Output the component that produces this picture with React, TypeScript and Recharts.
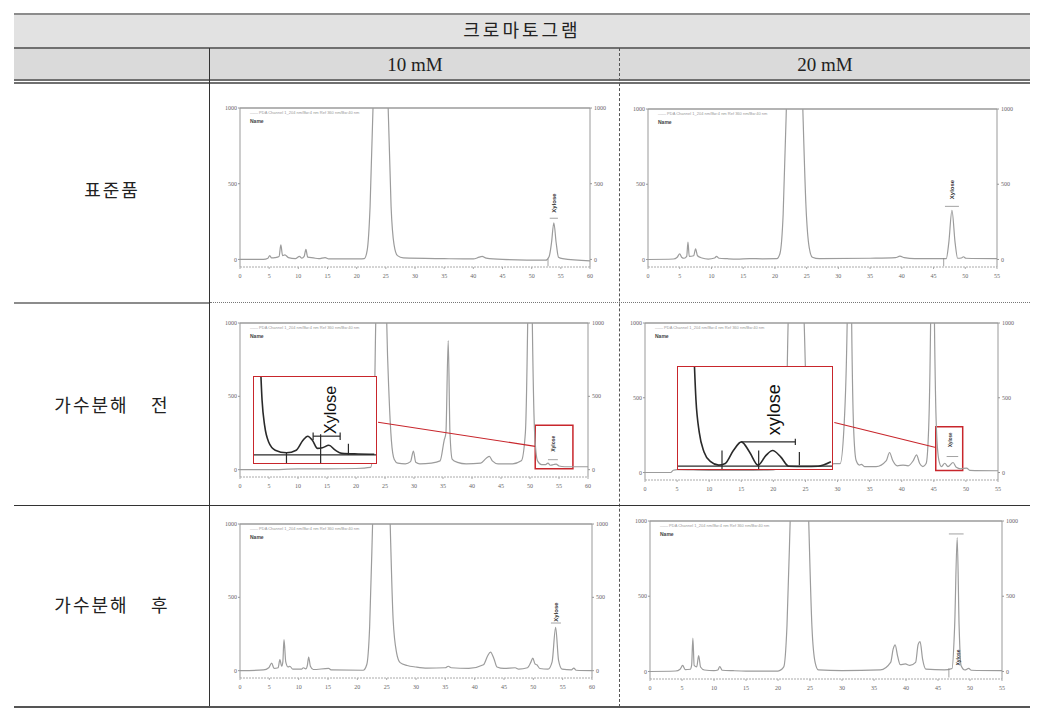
import { LineChart, Line, XAxis, YAxis, ReferenceLine, ReferenceArea, ReferenceDot } from 'recharts'

type Pt = [number, number]

// retention time (min), signal (mAU)
const std10: Pt[] = [
  [0, 0], [4, 0], [4.8, 8], [5.1, 26], [5.4, 10], [6.0, 12], [6.7, 20], [7.0, 97], [7.3, 25], [7.7, 30],
  [8.3, 12], [9.5, 5], [10.2, 20], [10.6, 8], [11.0, 20], [11.3, 66], [11.6, 15], [12.6, 10], [13.5, 5],
  [14.6, 12], [15.2, 3], [20.5, 3], [21.3, 5], [21.8, 60], [22.3, 350], [22.8, 1000], [23.5, 2200],
  [24.2, 2500], [24.9, 2000], [25.4, 1000], [25.9, 350], [26.4, 100], [27, 25], [28, 10], [35, 5], [40, 3],
  [41, 15], [41.5, 20], [42.2, 8], [45, 0], [52.4, -5], [53.0, 20], [53.4, 110], [53.8, 242], [54.2, 110],
  [54.6, 15], [55.3, 5], [60, -10],
]
const std20: Pt[] = [
  [0, 0], [4, 3], [4.6, 15], [5.0, 38], [5.3, 15], [5.7, 8], [6.1, 20], [6.3, 115], [6.5, 20], [7.2, 25],
  [7.5, 71], [7.8, 25], [8.5, 10], [9.5, 3], [10.5, 10], [10.8, 20], [11.2, 8], [12.5, 5], [14, 3], [16, 6],
  [18, 4], [20.3, 5], [20.8, 40], [21.3, 300], [21.8, 1000], [22.5, 2300], [23.2, 2500], [23.9, 1800],
  [24.4, 1000], [24.9, 350], [25.4, 80], [25.9, 15], [27, 5], [35, 8], [39, 12], [39.7, 22], [40.4, 12],
  [42, 5], [47, 5], [47.4, 110], [47.9, 327], [48.4, 110], [48.8, 8], [49.4, 10], [49.7, 18], [50.1, 8], [55, 5],
]
const pre10: Pt[] = [
  [0, 0], [5, 0], [10, 5], [15, 5], [20, 8], [22.5, 15], [23.0, 150], [23.4, 1000], [24, 2500], [24.8, 2500],
  [25.3, 1000], [25.7, 500], [26.1, 200], [26.6, 70], [27.2, 45], [28.5, 40], [29.4, 55], [29.9, 127],
  [30.3, 50], [31, 40], [33, 45], [34.5, 60], [35.2, 200], [35.5, 250], [35.9, 880], [36.2, 250], [36.6, 70],
  [37.5, 50], [39, 40], [41.5, 45], [42.5, 80], [43, 90], [43.5, 60], [44.5, 40], [47, 40], [48.5, 60],
  [49.2, 250], [49.6, 1000], [50.0, 2500], [50.4, 1000], [50.8, 250], [51.3, 60], [52, 35], [52.7, 35],
  [53.1, 45], [53.5, 30], [54.1, 35], [54.5, 38], [55, 25], [56, 20], [60, 20],
]
const pre20: Pt[] = [
  [0, 0], [4, 0], [4.4, 15], [5, 20], [10, 15], [15, 15], [20, 18], [21.8, 40], [22.3, 1000], [23.5, 2500],
  [24.8, 1000], [25.3, 300], [26, 120], [27, 60], [28.5, 50], [29.5, 60], [30.4, 60], [31.0, 300],
  [31.5, 1000], [31.9, 2500], [32.2, 1000], [32.5, 300], [32.9, 80], [33.4, 50], [33.7, 55], [34.2, 40],
  [36, 40], [37.6, 80], [38.1, 134], [38.6, 80], [39.3, 45], [40.2, 50], [41, 45], [41.8, 80], [42.3, 118],
  [42.8, 60], [43.3, 40], [43.8, 60], [44.2, 300], [44.5, 1000], [44.8, 2500], [45.1, 1000], [45.4, 300],
  [45.8, 80], [46.2, 40], [46.7, 62], [47.2, 40], [48, 67], [48.5, 35], [49.2, 25], [50.1, 30], [50.6, 15], [55, 12],
]
const post10: Pt[] = [
  [0, 0], [4, 5], [4.9, 20], [5.4, 52], [5.8, 15], [6.5, 20], [6.8, 75], [7.1, 30], [7.3, 60], [7.5, 211],
  [7.8, 60], [8.2, 25], [8.5, 30], [9, 10], [10.5, 10], [10.8, 20], [11.2, 12], [11.5, 40], [11.7, 93],
  [12, 30], [12.5, 8], [15.1, 15], [15.6, 5], [21, 3], [21.6, 40], [22.1, 300], [22.6, 1000], [23.5, 2500],
  [24.8, 2400], [25.6, 1000], [26.1, 350], [26.7, 120], [27.3, 55], [28.5, 35], [30, 25], [31.9, 18],
  [35, 20], [35.5, 30], [36, 20], [39, 15], [41.5, 40], [42.2, 100], [42.7, 127], [43.3, 80], [43.8, 25],
  [45, 15], [46.9, 20], [47.5, 10], [49, 20], [49.6, 60], [49.9, 86], [50.3, 45], [50.6, 40], [51.1, 15],
  [52.5, 10], [53.2, 60], [53.8, 295], [54.3, 70], [54.9, 10], [56.5, 5], [56.9, 18], [57.3, 3], [60, 0],
]
const post20: Pt[] = [
  [0, 0], [4, 3], [4.7, 15], [5.1, 40], [5.5, 12], [6.3, 15], [6.5, 40], [6.7, 221], [6.9, 40], [7.3, 30],
  [7.6, 106], [7.9, 30], [8.5, 10], [10, 5], [10.6, 10], [10.9, 33], [11.3, 8], [13, 5], [15, 3], [20, 3],
  [20.9, 30], [21.4, 300], [21.9, 1000], [22.8, 2500], [24.0, 2400], [24.8, 1000], [25.3, 300], [25.8, 60],
  [26.3, 10], [30, 5], [36, 10], [37.6, 60], [38.0, 150], [38.3, 177], [38.7, 100], [39.1, 45], [39.9, 50],
  [40.6, 40], [41.5, 60], [41.9, 180], [42.2, 199], [42.6, 80], [43.1, 15], [46, 10], [47.2, 20],
  [47.6, 300], [48.0, 889], [48.3, 300], [48.6, 40], [49.2, 10], [49.8, 20], [50.2, 8], [55, 5],
]
// enlarged xylose windows
const zoom10: Pt[] = [
  [51.2, 420], [51.33, 222], [51.47, 134], [51.68, 79], [52.03, 51], [52.63, 42], [53.15, 51], [53.5, 84],
  [53.76, 99], [54.02, 84], [54.28, 57], [54.54, 59], [54.89, 68], [55.23, 51], [55.58, 40], [56.45, 38], [57.31, 37],
]
const zoom20: Pt[] = [
  [45.71, 420], [45.79, 211], [45.88, 118], [46.01, 62], [46.19, 34], [46.41, 24], [46.59, 29], [46.81, 66],
  [47.03, 91], [47.25, 62], [47.48, 24], [47.7, 52], [47.88, 66], [48.1, 48], [48.32, 21], [48.76, 20],
  [49.12, 21], [49.47, 34],
]

const ticks60 = [0, 5, 10, 15, 20, 25, 30, 35, 40, 45, 50, 55, 60]
const ticks55 = [0, 5, 10, 15, 20, 25, 30, 35, 40, 45, 50, 55]
const yTicks = [0, 500, 1000]

const RED = '#c8262c'
const TRACE = '#9c9c9c'
const YW = 22
const XH = 16
const M = 3
const KO = "'Liberation Serif', 'Noto Sans CJK KR', serif"

interface Box { left: number; top: number; width: number; height: number }
type Seg = [Pt, Pt]

const rows = (pts: Pt[]) => pts.map(([t, v]) => ({ t, v }))

function vText(text: string, size: number, color: string, weight = 400) {
  // eslint-disable-next-line @typescript-eslint/no-explicit-any
  return (p: any) => {
    const { x, y } = p.viewBox
    return (
      <text x={x} y={y} transform={`rotate(-90, ${x}, ${y})`} textAnchor="middle" dominantBaseline="central"
        fontSize={size} fontWeight={weight} fill={color} fontFamily="Arial, 'Liberation Sans', sans-serif">
        {text}
      </text>
    )
  }
}

interface ChromProps {
  pts: Pt[]
  xMax: number
  box: Box
  tag: { t: number; v: number; size: number }
  bars: Seg[]
  redBox?: { x1: number; x2: number; y1: number; y2: number }
  link?: Seg
}

function Chromatogram({ pts, xMax, box, tag, bars, redBox, link }: ChromProps) {
  const w = box.width + 2 * YW + 2 * M
  const h = box.height + XH + 2 * M
  const tick = { fontSize: 6, fill: '#666' }
  return (
    <>
      <div style={{ position: 'absolute', left: box.left - YW - M, top: box.top - M }}>
        <LineChart width={w} height={h} data={rows(pts)} margin={{ top: M, right: M, bottom: M, left: M }}>
          <XAxis dataKey="t" type="number" domain={[0, xMax]} ticks={xMax === 60 ? ticks60 : ticks55}
            height={XH} tick={tick} tickSize={2} tickMargin={5} stroke="#aaa" strokeDasharray="2 1" />
          <YAxis yAxisId="l" domain={[-50, 1000]} ticks={yTicks} allowDataOverflow width={YW}
            tick={tick} tickSize={2} tickMargin={1} stroke="#999" />
          <YAxis yAxisId="r" orientation="right" domain={[-50, 1000]} ticks={yTicks} allowDataOverflow width={YW}
            tick={tick} tickSize={2} tickMargin={2} stroke="#999" />
          <ReferenceLine yAxisId="l" y={1000} stroke="#6b6b6b" strokeWidth={1.2} />
          <Line yAxisId="l" dataKey="v" type="monotone" stroke={TRACE} strokeWidth={1.2} dot={false}
            isAnimationActive={false} />
          {bars.map((s, i) => (
            <ReferenceLine key={i} yAxisId="l" segment={[{ x: s[0][0], y: s[0][1] }, { x: s[1][0], y: s[1][1] }]}
              stroke="#8a8a8a" strokeWidth={0.8} ifOverflow="visible" />
          ))}
          <ReferenceDot yAxisId="l" x={tag.t} y={tag.v} r={0} stroke="none" ifOverflow="visible"
            label={vText('Xylose', tag.size, '#333', 700)} />
          {redBox && (
            <ReferenceArea yAxisId="l" x1={redBox.x1} x2={redBox.x2} y1={redBox.y1} y2={redBox.y2}
              stroke={RED} strokeWidth={1.5} fill="none" fillOpacity={0} ifOverflow="visible" />
          )}
          {link && (
            <ReferenceLine yAxisId="l" segment={[{ x: link[0][0], y: link[0][1] }, { x: link[1][0], y: link[1][1] }]}
              stroke={RED} strokeWidth={1.1} ifOverflow="visible" />
          )}
        </LineChart>
      </div>
      <div style={{ position: 'absolute', left: box.left + 10, top: box.top + 2, fontSize: 4, color: '#999',
        fontFamily: 'Arial, sans-serif', whiteSpace: 'nowrap' }}>
        —— PDA Channel 1_204 nm/Bw:4 nm Ref 360 nm/Bw:40 nm
      </div>
      <div style={{ position: 'absolute', left: box.left + 10, top: box.top + 10, fontSize: 5, color: '#444',
        fontWeight: 700, fontFamily: 'Arial, sans-serif' }}>
        Name
      </div>
    </>
  )
}

interface InsetProps {
  pts: Pt[]
  box: Box
  xDom: [number, number]
  yDom: [number, number]
  base: number
  bars: Seg[]
  text: { t: number; v: number; size: number; value: string }
}

function Inset({ pts, box, xDom, yDom, base, bars, text }: InsetProps) {
  const b = 1.5
  return (
    <div style={{ position: 'absolute', left: box.left, top: box.top, width: box.width - 2 * b,
      height: box.height - 2 * b, border: `${b}px solid ${RED}`, background: '#fff' }}>
      <LineChart width={box.width - 2 * b} height={box.height - 2 * b} data={rows(pts)}
        margin={{ top: 0, right: 0, bottom: 0, left: 0 }}>
        <XAxis dataKey="t" type="number" domain={xDom} hide allowDataOverflow />
        <YAxis domain={yDom} hide allowDataOverflow />
        <ReferenceLine y={base} stroke="#2a2a2a" strokeWidth={1.2} />
        <Line dataKey="v" type="monotone" stroke="#2a2a2a" strokeWidth={1.6} dot={false} isAnimationActive={false} />
        {bars.map((s, i) => (
          <ReferenceLine key={i} segment={[{ x: s[0][0], y: s[0][1] }, { x: s[1][0], y: s[1][1] }]}
            stroke="#2a2a2a" strokeWidth={1.2} ifOverflow="visible" />
        ))}
        <ReferenceDot x={text.t} y={text.v} r={0} stroke="none" ifOverflow="visible"
          label={vText(text.value, text.size, '#111')} />
      </LineChart>
    </div>
  )
}

function Rule({ left, top, width, height, style }: { left: number; top: number; width: number; height: number; style: React.CSSProperties }) {
  return <div style={{ position: 'absolute', left, top, width, height, ...style }} />
}

export default function App() {
  const label = (text: string, top: number) => (
    <div style={{ position: 'absolute', left: 14, width: 196, top: top - 12, height: 24, lineHeight: '24px',
      textAlign: 'center', fontSize: 18, letterSpacing: 2, wordSpacing: 16, color: '#222', fontFamily: KO,
      whiteSpace: 'pre' }}>
      {text}
    </div>
  )
  return (
    <div style={{ position: 'absolute', left: 0, top: 0, width: 1043, height: 714, background: '#fff', overflow: 'hidden' }}>
      {/* table frame */}
      <Rule left={14} top={14} width={1016} height={34} style={{ background: '#e2e2e2' }} />
      <Rule left={14} top={49} width={1016} height={31} style={{ background: '#dadada' }} />
      <Rule left={14} top={13} width={1016} height={2} style={{ background: '#8c8c8c' }} />
      <Rule left={14} top={47} width={1016} height={2} style={{ background: '#707070' }} />
      <Rule left={14} top={79} width={1016} height={1.5} style={{ background: '#707070' }} />
      <Rule left={14} top={82} width={1016} height={1.5} style={{ background: '#707070' }} />
      <Rule left={209} top={48} width={1} height={659} style={{ background: '#333' }} />
      <Rule left={619} top={48} width={0} height={659} style={{ borderLeft: '1px dashed #555' }} />
      <Rule left={14} top={302} width={195} height={2} style={{ background: '#8c8c8c' }} />
      <Rule left={210} top={302} width={820} height={0} style={{ borderTop: '1px dotted #777' }} />
      <Rule left={14} top={505} width={1016} height={1} style={{ background: '#333' }} />
      <Rule left={14} top={706} width={1016} height={2} style={{ background: '#555' }} />

      <div style={{ position: 'absolute', left: 14, width: 1016, top: 16, height: 31, lineHeight: '31px',
        textAlign: 'center', fontSize: 18, letterSpacing: 3, color: '#222', fontFamily: KO }}>
        크로마토그램
      </div>
      <div style={{ position: 'absolute', left: 210, width: 410, top: 50, height: 30, lineHeight: '30px',
        textAlign: 'center', fontSize: 19, color: '#222', fontFamily: KO }}>
        10 mM
      </div>
      <div style={{ position: 'absolute', left: 620, width: 410, top: 50, height: 30, lineHeight: '30px',
        textAlign: 'center', fontSize: 19, color: '#222', fontFamily: KO }}>
        20 mM
      </div>
      {label('표준품', 191)}
      {label('가수분해 전', 406)}
      {label('가수분해 후', 606)}

      <Chromatogram pts={std10} xMax={60} box={{ left: 240, top: 108, width: 350, height: 159 }}
        tag={{ t: 53.8, v: 373, size: 6 }}
        bars={[[[53.1, 272], [54.5, 272]], [[52.8, -45], [52.8, 5]]]} />
      <Chromatogram pts={std20} xMax={55} box={{ left: 648, top: 109, width: 349, height: 158 }}
        tag={{ t: 47.9, v: 465, size: 6 }}
        bars={[[[46.8, 353], [49, 353]], [[46.6, -45], [46.6, 10]]]} />
      <Chromatogram pts={pre10} xMax={60} box={{ left: 240, top: 323, width: 348, height: 154 }}
        tag={{ t: 54, v: 177, size: 5 }}
        bars={[[[53.1, 68], [54.8, 68]]]}
        redBox={{ x1: 50.9, x2: 57.4, y1: 7, y2: 302 }}
        link={[[23.8, 323], [50.9, 159]]} />
      <Chromatogram pts={pre20} xMax={55} box={{ left: 645, top: 323, width: 353, height: 157 }}
        tag={{ t: 47.6, v: 219, size: 4.5 }}
        bars={[[[47.0, 107], [48.8, 107]]]}
        redBox={{ x1: 45.3, x2: 49.5, y1: 13, y2: 306 }}
        link={[[29.5, 335], [45.3, 167]]} />
      <Chromatogram pts={post10} xMax={60} box={{ left: 240, top: 524, width: 352, height: 154 }}
        tag={{ t: 53.8, v: 400, size: 6 }}
        bars={[[[53.0, 325], [54.7, 325]]]} />
      <Chromatogram pts={post20} xMax={55} box={{ left: 650, top: 521, width: 352, height: 158 }}
        tag={{ t: 48.2, v: 93, size: 5 }}
        bars={[[[46.7, 914], [49.0, 914]], [[46.7, 22], [46.7, -40]]]} />

      <Inset pts={zoom10} box={{ left: 253, top: 376, width: 125, height: 89 }} xDom={[50.9, 57.4]} yDom={[7, 302]}
        base={35}
        bars={[
          [[52.63, 42], [52.63, 7]], [[54.45, 106], [54.45, 7]], [[55.93, 73], [55.93, 35]],
          [[54.05, 99], [55.49, 99]], [[54.05, 112], [54.05, 86]], [[55.49, 112], [55.49, 86]],
        ]}
        text={{ t: 54.97, v: 189, size: 16, value: 'Xylose' }} />
      <Inset pts={zoom20} box={{ left: 677, top: 366, width: 157, height: 105 }} xDom={[45.3, 49.5]} yDom={[13, 306]}
        base={21.4}
        bars={[
          [[46.5, 66], [46.5, -4]], [[47.5, 66], [47.5, -4]], [[48.61, 62], [48.61, 24]],
          [[47.03, 91], [48.5, 91]], [[48.5, 100], [48.5, 82]],
        ]}
        text={{ t: 47.92, v: 183, size: 18, value: 'xylose' }} />
    </div>
  )
}
